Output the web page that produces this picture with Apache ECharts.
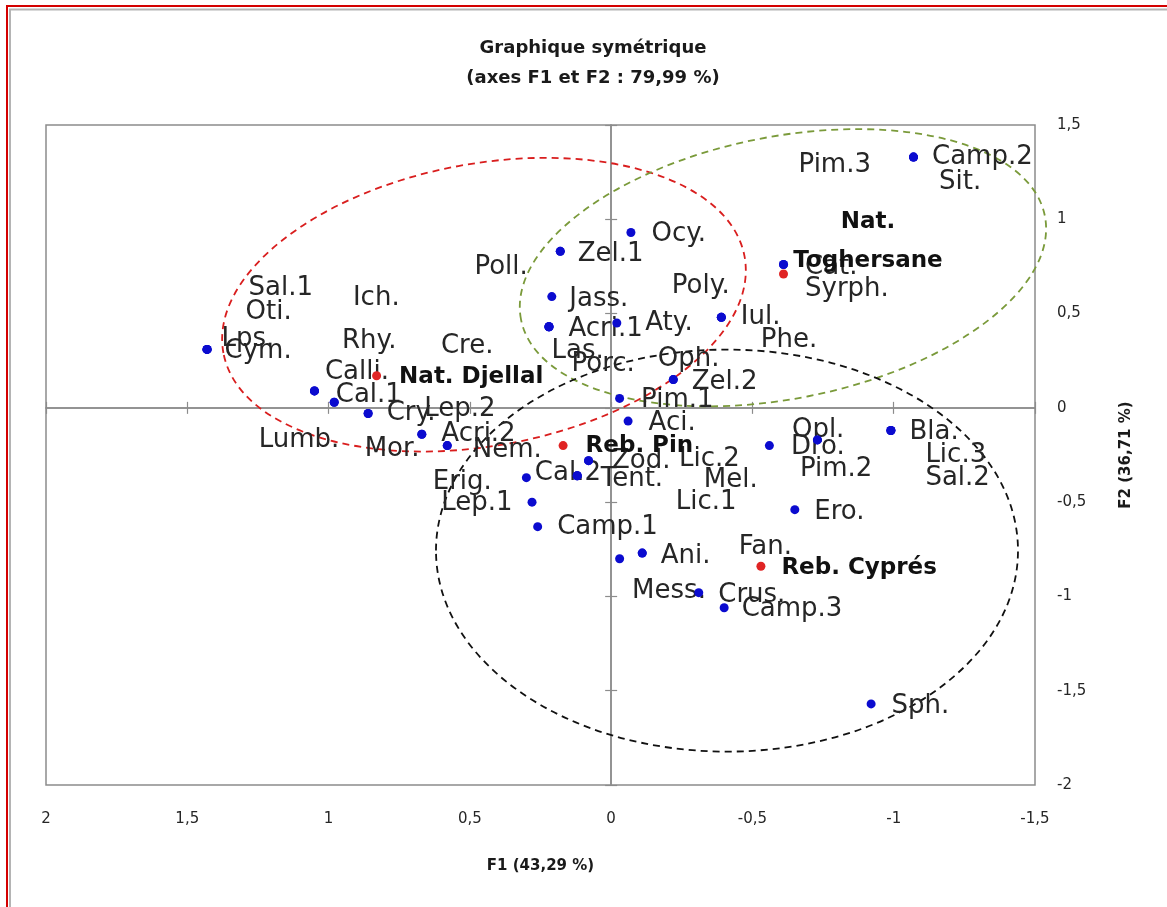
<!DOCTYPE html>
<html>
<head>
<meta charset="utf-8">
<script src="https://cdn.jsdelivr.net/npm/echarts@6/dist/echarts.min.js"></script>
<style>
  html, body { margin: 0; padding: 0; background: #fff; }
  #chart { width: 1167px; height: 907px; }
</style>
</head>
<body>
<div id="chart"></div>
<script>
// Correspondence analysis, symmetric plot: species (columns) and stations (rows)
const speciesNames = [
  'Lps.', 'Cym.', 'Sal.1', 'Oti.',
  'Calli.', 'Rhy.', 'Ich.',
  'Cal.1', 'Lumb.',
  'Cry.', 'Mor.',
  'Acri.2', 'Lep.2',
  'Nem.', 'Erig.',
  'Cal.2', 'Lep.1', 'Camp.1',
  'Tent.', 'Mel.', 'Lic.1',
  'Zod.', 'Lic.2',
  'Mess.', 'Ani.', 'Fan.', 'Crus.', 'Camp.3',
  'Aci.', 'Pim.1', 'Zel.2', 'Oph.', 'Aty.',
  'Acri.1', 'Las.', 'Porc.', 'Cre.',
  'Jass.', 'Zel.1', 'Poll.', 'Ocy.',
  'Iul.', 'Poly.', 'Phe.',
  'Cat.', 'Syrph.',
  'Camp.2', 'Pim.3', 'Sit.',
  'Dro.', 'Opl.', 'Pim.2',
  'Bla.', 'Lic.3', 'Sal.2',
  'Ero.', 'Sph.'
];
const speciesF1 = [
  1.43, 1.43, 1.43, 1.43,
  1.05, 1.05, 1.05,
  0.98, 0.98,
  0.86, 0.86,
  0.67, 0.67,
  0.58, 0.58,
  0.30, 0.28, 0.26,
  0.12, 0.12, 0.12,
  0.08, 0.08,
  -0.03, -0.11, -0.11, -0.31, -0.40,
  -0.06, -0.03, -0.22, -0.22, -0.02,
  0.22, 0.22, 0.22, 0.22,
  0.21, 0.18, 0.18, -0.07,
  -0.39, -0.39, -0.39,
  -0.61, -0.61,
  -1.07, -1.07, -1.07,
  -0.56, -0.73, -0.73,
  -0.99, -0.99, -0.99,
  -0.65, -0.92
];
const speciesF2 = [
  0.31, 0.31, 0.31, 0.31,
  0.09, 0.09, 0.09,
  0.03, 0.03,
  -0.03, -0.03,
  -0.14, -0.14,
  -0.20, -0.20,
  -0.37, -0.50, -0.63,
  -0.36, -0.36, -0.36,
  -0.28, -0.28,
  -0.80, -0.77, -0.77, -0.98, -1.06,
  -0.07, 0.05, 0.15, 0.15, 0.45,
  0.43, 0.43, 0.43, 0.43,
  0.59, 0.83, 0.83, 0.93,
  0.48, 0.48, 0.48,
  0.76, 0.76,
  1.33, 1.33, 1.33,
  -0.20, -0.17, -0.17,
  -0.12, -0.12, -0.12,
  -0.54, -1.57
];
const siteNames = ['Nat. Djellal', 'Reb. Pin', 'Reb. Cyprés', 'Nat. Toghersane'];
const siteF1 = [0.83, 0.17, -0.53, -0.61];
const siteF2 = [0.17, -0.20, -0.84, 0.71];

const titleLines = ['Graphique symétrique', '(axes F1 et F2 : 79,99 %)'];
const xAxisTitle = 'F1 (43,29 %)';
const yAxisTitle = 'F2 (36,71 %)';

// Label placement (pixel nudges, side of the point) for crowded points
const labelPlacement = {
  'Lps.': [-5, -10], 'Cym.': [-2, 2], 'Sal.1': [22, -61], 'Oti.': [19, -37],
  'Calli.': [-9, -19], 'Rhy.': [8, -50], 'Ich.': [19, -93],
  'Cal.1': [-18, -7], 'Lumb.': [-95, 38],
  'Cry.': [-1, 0], 'Mor.': [-23, 36],
  'Acri.2': [0, 0], 'Lep.2': [-17, -25],
  'Nem.': [6, 5], 'Erig.': [-34, 37],
  'Cal.2': [-11, -4], 'Lep.1': [0, 1, 'left'], 'Camp.1': [0, 1],
  'Tent.': [4, 4], 'Mel.': [107, 5], 'Lic.1': [79, 27],
  'Zod.': [4, 1], 'Lic.2': [71, -1],
  'Mess.': [-7, 33], 'Ani.': [-1, 3], 'Fan.': [77, -6], 'Crus.': [0, 3], 'Camp.3': [-2, 2],
  'Aci.': [1, 2], 'Pim.1': [2, 2], 'Zel.2': [-1, 3], 'Oph.': [-35, -20], 'Aty.': [9, 0],
  'Acri.1': [0, 2], 'Las.': [-17, 24], 'Porc.': [3, 37], 'Cre.': [-36, 19, 'left'],
  'Jass.': [-2, 3], 'Zel.1': [-2, 3], 'Poll.': [-13, 16, 'left'], 'Ocy.': [1, 2],
  'Iul.': [0, 0], 'Poly.': [-69, -31], 'Phe.': [20, 23],
  'Cat.': [2, 3], 'Syrph.': [2, 25],
  'Camp.2': [-1, 0], 'Pim.3': [-23, 8, 'left'], 'Sit.': [6, 25],
  'Dro.': [2, 2], 'Opl.': [-45, -10], 'Pim.2': [-37, 29],
  'Bla.': [-1, 2], 'Lic.3': [15, 25], 'Sal.2': [15, 48],
  'Ero.': [0, 3], 'Sph.': [1, 2],
  'Nat. Djellal': [3, 1], 'Reb. Pin': [3, 0], 'Reb. Cyprés': [1, 2],
  'Nat. Toghersane': [65, -32, 'right', true]
};

// Dashed grouping ellipses: centre in (F1, F2), semi-axes in px, tilt in degrees
const groupEllipses = [
  { f1: 0.45, f2: 0.547, rx: 265, ry: 141, tilt: 10.5, color: '#d91e1e' },
  { f1: -0.608, f2: 0.743, rx: 267, ry: 131, tilt: 11.2, color: '#7a9a3a' },
  { f1: -0.410, f2: -0.757, rx: 291, ry: 201, tilt: 0, color: '#111111' }
];

const FONT = 'DejaVu Sans';
const AXIS_GREY = '#8c8c8c';
const comma = v => String(v).replace('.', ',');

function labelItems(names, f1, f2) {
  return names.map((n, i) => {
    const p = labelPlacement[n] || [0, 0];
    const item = {
      name: n,
      value: [f1[i], f2[i]],
      label: { position: p[2] || 'right', offset: [p[0], p[1]] }
    };
    if (p[3]) {
      item.label.align = 'center';
      item.label.lineHeight = 39;
      item.wrap = true;
    }
    return item;
  });
}
const pointItems = (f1, f2) => f1.map((x, i) => [x, f2[i]]);

const zeroAxisX = (position) => ({
  type: 'value', min: -1.5, max: 2, interval: 0.5, inverse: true, position,
  axisLine: { show: true, onZero: true, onZeroAxisIndex: 0, lineStyle: { color: AXIS_GREY, width: 1.5 } },
  axisTick: { show: true, length: 6, lineStyle: { color: AXIS_GREY, width: 1.2 } },
  axisLabel: { show: false }, splitLine: { show: false }
});
const zeroAxisY = (position) => ({
  type: 'value', min: -2, max: 1.5, interval: 0.5, position,
  axisLine: { show: true, onZero: true, onZeroAxisIndex: 0, lineStyle: { color: AXIS_GREY, width: 1.5 } },
  axisTick: { show: true, length: 6, lineStyle: { color: AXIS_GREY, width: 1.2 } },
  axisLabel: { show: false }, splitLine: { show: false }
});

const chart = echarts.init(document.getElementById('chart'), null, { renderer: 'canvas' });

chart.setOption({
  animation: false,
  backgroundColor: '#ffffff',
  title: {
    text: titleLines.join('\n'),
    left: 588, top: 28, textAlign: 'center',
    textStyle: { fontFamily: FONT, fontWeight: 'bold', fontSize: 18, lineHeight: 30, color: '#1a1a1a' }
  },
  grid: {
    left: 46, right: 132, top: 125, bottom: 122,
    show: true, borderColor: AXIS_GREY, borderWidth: 1.5,
    containLabel: false, outerBoundsMode: 'none'
  },
  xAxis: [
    {
      type: 'value', min: -1.5, max: 2, interval: 0.5, inverse: true, position: 'bottom',
      axisLine: { show: false, onZero: false }, axisTick: { show: false }, splitLine: { show: false },
      axisLabel: { formatter: comma, margin: 27, fontFamily: FONT, fontSize: 15, color: '#262626' },
      name: xAxisTitle, nameLocation: 'middle', nameGap: 74,
      nameTextStyle: { fontFamily: FONT, fontWeight: 'bold', fontSize: 15, color: '#1a1a1a' }
    },
    zeroAxisX('top'),
    zeroAxisX('bottom')
  ],
  yAxis: [
    {
      type: 'value', min: -2, max: 1.5, interval: 0.5, position: 'right',
      axisLine: { show: false, onZero: false }, axisTick: { show: false }, splitLine: { show: false },
      axisLabel: { formatter: comma, margin: 22, fontFamily: FONT, fontSize: 15, color: '#262626' },
      name: yAxisTitle, nameLocation: 'middle', nameRotate: 90, nameGap: 84,
      nameTextStyle: { fontFamily: FONT, fontWeight: 'bold', fontSize: 15, color: '#1a1a1a' }
    },
    zeroAxisY('left'),
    zeroAxisY('right')
  ],
  series: [
    {
      name: 'Espèces (étiquettes)', type: 'scatter', xAxisIndex: 0, yAxisIndex: 0,
      z: 2, silent: true, symbolSize: 1, itemStyle: { color: 'rgba(0,0,0,0)', opacity: 1 },
      label: { show: true, formatter: '{b}', distance: 19, fontFamily: FONT, fontSize: 26, color: '#262626' },
      data: labelItems(speciesNames, speciesF1, speciesF2)
    },
    {
      name: 'Stations (étiquettes)', type: 'scatter', xAxisIndex: 0, yAxisIndex: 0,
      z: 2, silent: true, symbolSize: 1, itemStyle: { color: 'rgba(0,0,0,0)', opacity: 1 },
      label: {
        show: true, distance: 19, fontFamily: FONT, fontSize: 23, fontWeight: 'bold', color: '#111',
        formatter: p => p.data.wrap ? p.name.replace('. ', '.\n') : p.name
      },
      data: labelItems(siteNames, siteF1, siteF2)
    },
    {
      name: 'Espèces', type: 'scatter', xAxisIndex: 0, yAxisIndex: 0, z: 3,
      symbol: 'circle', symbolSize: 9, itemStyle: { color: '#0b0bcf', opacity: 1 },
      data: pointItems(speciesF1, speciesF2)
    },
    {
      name: 'Stations', type: 'scatter', xAxisIndex: 0, yAxisIndex: 0, z: 4,
      symbol: 'circle', symbolSize: 9, itemStyle: { color: '#e02424', opacity: 1 },
      data: pointItems(siteF1, siteF2)
    }
  ]
});

// Frame and grouping ellipses, placed through the chart's own coordinate system
function drawOverlays() {
  const ellipses = groupEllipses.map(e => {
    const c = chart.convertToPixel({ gridIndex: 0 }, [e.f1, e.f2]);
    return {
      type: 'ellipse', x: c[0], y: c[1], rotation: e.tilt * Math.PI / 180,
      shape: { cx: 0, cy: 0, rx: e.rx, ry: e.ry },
      style: { fill: null, stroke: e.color, lineWidth: 1.8, lineDash: [7, 5] },
      silent: true, z: 1
    };
  });
  const frame = [
    { type: 'polyline', shape: { points: [[7, 907], [7, 6], [1167, 6]] },
      style: { stroke: '#d40000', lineWidth: 2, fill: null }, silent: true },
    { type: 'polyline', shape: { points: [[10, 907], [10, 9.5], [1167, 9.5]] },
      style: { stroke: '#b4b4b4', lineWidth: 2, fill: null }, silent: true }
  ];
  chart.setOption({ graphic: { elements: ellipses.concat(frame) } });
}
drawOverlays();
</script>
</body>
</html>
